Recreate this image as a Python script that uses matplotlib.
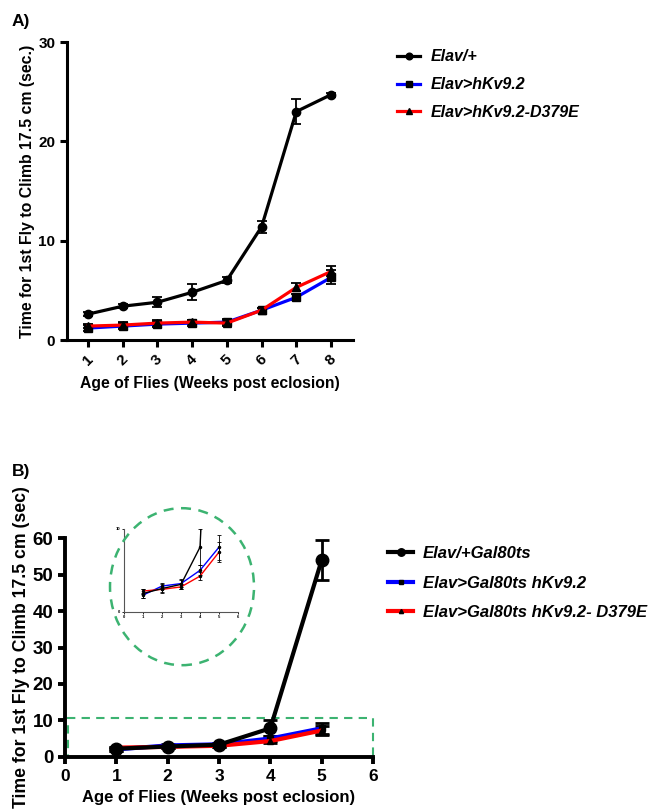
import numpy as np
from matplotlib import pyplot as plt
import matplotlib.patches as patches

plt.rcParams['font.family'] = ['Liberation Sans', 'DejaVu Sans']
plt.rcParams['font.weight'] = 'bold'

# Panel A data
weeks_a = [1, 2, 3, 4, 5, 6, 7, 8]
elav_a = [2.6, 3.4, 3.8, 4.8, 6.0, 11.4, 23.0, 24.7]
elav_a_err = [0.2, 0.2, 0.5, 0.8, 0.3, 0.6, 1.3, 0.2]
kv_a = [1.2, 1.4, 1.6, 1.7, 1.8, 3.0, 4.3, 6.3]
kv_a_err = [0.3, 0.3, 0.3, 0.3, 0.3, 0.2, 0.3, 0.7]
mut_a = [1.4, 1.5, 1.7, 1.8, 1.7, 3.0, 5.3, 6.9]
mut_a_err = [0.2, 0.3, 0.3, 0.2, 0.3, 0.2, 0.4, 0.5]
labels_a = ['Elav/+', 'Elav>hKv9.2', 'Elav>hKv9.2-D379E']

# Panel B data
weeks_b = [1, 2, 3, 4, 5]
elav_b = [2.2, 2.8, 3.3, 7.8, 54.0]
elav_b_err = [0.5, 0.5, 0.6, 2.2, 5.4]
kv_b = [2.0, 3.1, 3.4, 5.0, 7.8]
kv_b_err = [0.3, 0.4, 0.4, 0.6, 1.5]
mut_b = [2.5, 2.7, 3.0, 4.3, 7.2]
mut_b_err = [0.3, 0.3, 0.3, 0.5, 1.2]
labels_b = ['Elav/+Gal80ts', 'Elav>Gal80ts hKv9.2', 'Elav>Gal80ts hKv9.2- D379E']

W, H = 649, 809
fig = plt.figure(figsize=(W / 100, H / 100), dpi=100)
green = '#3cb371'


def px(l, t, r, b):
    return [l / W, 1 - b / H, (r - l) / W, (b - t) / H]


def style(ax, lw):
    for s in ['top', 'right']:
        ax.spines[s].set_visible(False)
    for s in ['left', 'bottom']:
        ax.spines[s].set_linewidth(lw)
    ax.tick_params(width=lw, length=5, direction='out')


# ---- Panel A ----
axA = fig.add_axes(px(67, 42, 353, 340))
series_a = [(kv_a, kv_a_err, 'blue', 's'), (mut_a, mut_a_err, 'red', '^'),
            (elav_a, elav_a_err, 'black', 'o')]
handles = {}
for vals, err, col, mk in series_a:
    axA.errorbar(weeks_a, vals, yerr=err, fmt='none', ecolor='black', elinewidth=1.3,
                 capsize=3.5, capthick=1.3, zorder=3)
    h, = axA.plot(weeks_a, vals, color=col, lw=2.3, marker=mk, ms=6,
                  mfc='black', mec='black', zorder=4)
    handles[col] = h
axA.set_xlim(0.4, 8.63)
axA.set_ylim(0, 30)
axA.set_yticks([0, 10, 20, 30])
axA.set_xticks(weeks_a)
axA.set_xticklabels([str(w) for w in weeks_a], rotation=45, ha='center')
axA.tick_params(labelsize=11)
style(axA, 2.2)
axA.set_xlabel('Age of Flies (Weeks post eclosion)', fontsize=11.3, fontweight='bold',
               labelpad=6)
axA.set_ylabel('Time for 1st Fly to Climb 17.5 cm (sec.)', fontsize=11.4, fontweight='bold',
               labelpad=2)
fig.text(12 / W, 1 - 26 / H, 'A)', fontsize=12.5, fontweight='bold')
fig.legend([handles['black'], handles['blue'], handles['red']], labels_a,
           loc='upper left', bbox_to_anchor=(383 / W, 1 - 35 / H), frameon=False,
           prop={'size': 11.5, 'weight': 'bold', 'style': 'italic'},
           handlelength=1.4, labelspacing=0.8, handletextpad=0.7, markerscale=0.8)

# ---- Panel B ----
axB = fig.add_axes(px(65, 538.3, 373, 756.7))
series_b = [(kv_b, kv_b_err, 'blue', 's', 5), (mut_b, mut_b_err, 'red', '^', 5),
            (elav_b, elav_b_err, 'black', 'o', 9)]
handles = {}
for vals, err, col, mk, ms in series_b:
    axB.errorbar(weeks_b, vals, yerr=err, fmt='none', ecolor='black', elinewidth=2,
                 capsize=5, capthick=2, zorder=3)
    h, = axB.plot(weeks_b, vals, color=col, lw=3, marker=mk, ms=ms,
                  mfc='black', mec='black', zorder=4)
    handles[col] = h
axB.set_xlim(0, 6)
axB.set_ylim(0, 60)
axB.set_xticks(range(7))
axB.set_yticks(range(0, 61, 10))
axB.tick_params(axis='x', labelsize=12.5)
axB.tick_params(axis='y', labelsize=13.5)
style(axB, 2.8)
axB.set_xlabel('Age of Flies (Weeks post eclosion)', fontsize=12, fontweight='bold',
               labelpad=5)
axB.set_ylabel('Time for 1st Fly to Climb 17.5 cm (sec)', fontsize=12.7, fontweight='bold',
               labelpad=2)
axB.add_patch(patches.Rectangle((0.05, 0), 5.95, 10.5, fill=False, edgecolor=green,
                                linestyle=(0, (4, 3)), lw=1.5, zorder=2, clip_on=False))
fig.text(12 / W, 1 - 476 / H, 'B)', fontsize=12.5, fontweight='bold')
fig.legend([handles['black'], handles['blue'], handles['red']], labels_b,
           loc='upper left', bbox_to_anchor=(373 / W, 1 - 531 / H), frameon=False,
           prop={'size': 12, 'weight': 'bold', 'style': 'italic'},
           handlelength=1.5, labelspacing=0.88, handletextpad=0.6, markerscale=0.6)

# zoomed inset inside dashed circle
fig.patches.append(patches.Ellipse((182 / W, 1 - 586.7 / H), 144 / W, 157 / H,
                                   transform=fig.transFigure, fill=False,
                                   edgecolor=green, lw=1.8, linestyle=(0, (4, 3))))
axI = fig.add_axes(px(124, 529, 238, 611.7))
for vals, err, col in [(kv_b, kv_b_err, 'blue'), (mut_b, mut_b_err, 'red'),
                       (elav_b, elav_b_err, 'black')]:
    axI.errorbar(weeks_b, vals, yerr=err, color=col, lw=1, ecolor='black',
                 elinewidth=0.6, capsize=1.2, capthick=0.6, marker='o', ms=1.5,
                 mfc='black', mec='black')
axI.set_xlim(0, 6)
axI.set_ylim(0, 10)
axI.set_xticks(range(7))
axI.set_yticks([0, 10])
axI.tick_params(labelsize=3, length=1.5, width=0.6, pad=1)
for s in ['top', 'right']:
    axI.spines[s].set_visible(False)
for s in ['left', 'bottom']:
    axI.spines[s].set_linewidth(0.8)
    axI.spines[s].set_color('#555555')

fig.savefig('out.png', dpi=100)
